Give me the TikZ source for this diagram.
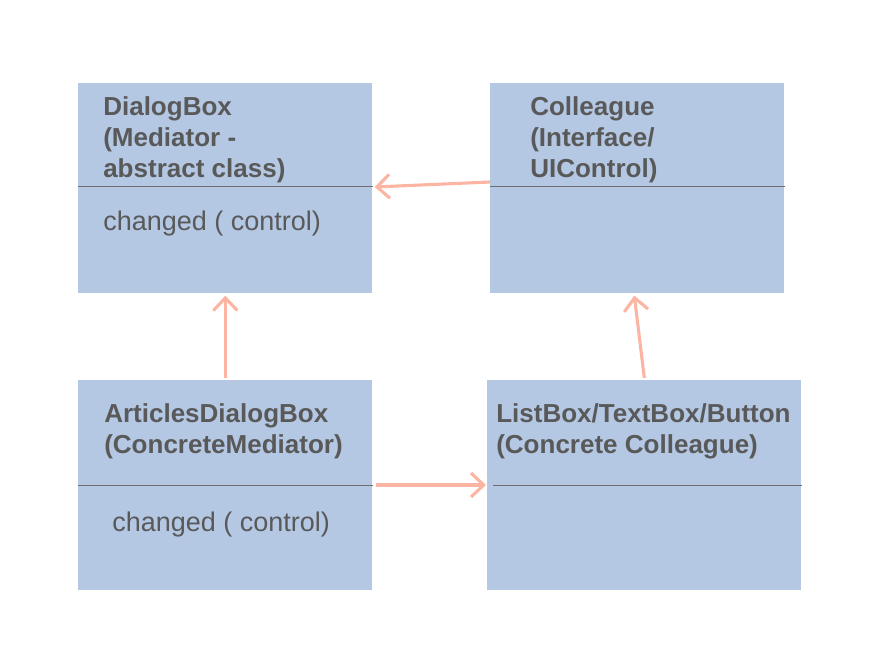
\documentclass[tikz,border=0pt]{standalone}
\usepackage{fontspec}
\setmainfont{Liberation Sans}
\usetikzlibrary{arrows.meta,positioning,calc}
\definecolor{boxblue}{HTML}{B4C8E4}
\definecolor{textgray}{HTML}{595959}
\definecolor{rulegray}{HTML}{6E6E6E}
\definecolor{linkpink}{HTML}{FCB4A3}

\begin{document}
\begin{tikzpicture}[x=0.025cm, y=-0.025cm, >={Straight Barb[length=9pt,width=17pt]}]
\tikzset{
  classbox/.style={fill=boxblue, draw=none, inner sep=0pt, minimum height=5.25cm},
  classname/.style={anchor=north west, align=left, inner sep=0pt, text=textgray,
    font=\fontsize{18.5}{22}\selectfont\bfseries},
  classop/.style={anchor=north west, inner sep=0pt, text=textgray,
    font=\fontsize{19.2}{22}\selectfont},
  sepline/.style={draw=rulegray, line width=0.7pt},
  link/.style={draw=linkpink, line width=2.2pt, ->}
}
\useasboundingbox (0,0) rectangle (896,670);

% Class boxes
\node[classbox, minimum width=7.35cm, anchor=north west] (dialog) at (78,83) {};
\node[classbox, minimum width=7.35cm, anchor=north west] (colleague) at (490,83) {};
\node[classbox, minimum width=7.35cm, anchor=north west] (articles) at (78,380) {};
\node[classbox, minimum width=7.85cm, anchor=north west] (listbox) at (487,380) {};

% Compartment rules
\draw[sepline] (dialog.west |- 0,186) -- (dialog.east |- 0,186);
\draw[sepline] (colleague.west |- 0,186) -- (colleague.east |- 0,186);
\draw[sepline] (articles.west |- 0,485) -- (articles.east |- 0,485);
\draw[sepline] (493,485) -- (listbox.east |- 0,485);

% Names and operations
\node[classname] (dialogname) at ($(dialog.north west)+(25,13)$)
  {DialogBox\\(Mediator -\\abstract class)};
\node[classop] (dialogop) at ($(dialog.north west)+(25,128)$) {changed ( control)};
\node[classname] (colleaguename) at ($(colleague.north west)+(40,13)$)
  {Colleague\\(Interface/\\UIControl)};
\node[classname] (articlesname) at ($(articles.north west)+(26,23)$)
  {ArticlesDialogBox\\(ConcreteMediator)};
\node[classop] (articlesop) at ($(articles.north west)+(34,132)$) {changed ( control)};
\node[classname] (listboxname) at ($(listbox.north west)+(9,23)$)
  {ListBox/TextBox/Button\\(Concrete Colleague)};

% Relations
\draw[link] (colleague.west |- 0,182) -- ($(dialog.east |- 0,187)+(2,0)$);
\draw[link] ($(articles.north)+(0,-2)$) -- ($(dialog.south)+(0,2)$);
\draw[link] ($(listbox.north)+(0,-2)$) -- ($(colleague.south)+(-3,2)$);
\draw[link] ($(articles.east |- 0,485)+(3,0)$) -- ($(listbox.west |- 0,485)+(-1,0)$);

\end{tikzpicture}
\end{document}
